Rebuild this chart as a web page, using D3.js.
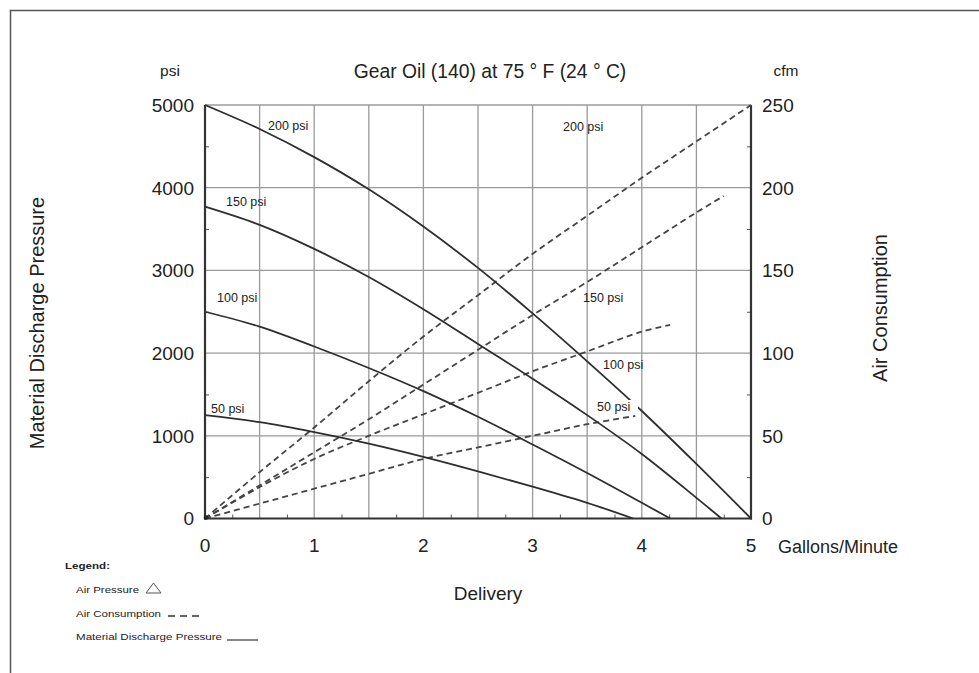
<!DOCTYPE html>
<html>
<head>
<meta charset="utf-8">
<script src="https://cdn.jsdelivr.net/npm/d3@7"></script>
<style>
  html, body { margin: 0; padding: 0; background: #fff; }
  svg { display: block; font-family: "Liberation Sans", Arial, Helvetica, sans-serif; }
</style>
</head>
<body>
<svg id="chart" width="979" height="673"></svg>
<script>
// Gear oil pump performance: material discharge pressure (solid) and air consumption (dashed)
const deliveryTicks = [0, 1, 2, 3, 4, 5];
const psiTicks = [0, 1000, 2000, 3000, 4000, 5000];
const cfmTicks = [0, 50, 100, 150, 200, 250];

// Material discharge pressure (psi) vs delivery (gal/min), per air pressure
const gpm200 = [0, 0.5, 1, 1.5, 2, 2.5, 3, 3.5, 4, 4.5, 5];
const psi200 = [5000, 4710, 4370, 3980, 3530, 3030, 2480, 1900, 1300, 660, 0];
const gpm150 = [0, 0.5, 1, 1.5, 2, 2.5, 3, 3.5, 4, 4.5, 4.73];
const psi150 = [3770, 3550, 3260, 2920, 2530, 2110, 1690, 1250, 780, 250, 0];
const gpm100 = [0, 0.5, 1, 1.5, 2, 2.5, 3, 3.5, 4, 4.26];
const psi100 = [2500, 2320, 2080, 1820, 1540, 1230, 895, 550, 190, 0];
const gpm50 = [0, 0.5, 1, 1.5, 2, 2.5, 3, 3.5, 3.92];
const psi50 = [1250, 1165, 1045, 905, 745, 570, 385, 190, 0];

// Air consumption (cfm) vs delivery (gal/min), per air pressure
const airGpm200 = [0, 0.5, 1, 1.5, 2, 2.5, 3, 3.5, 4, 4.5, 5];
const cfm200 = [0, 28, 55, 83, 110, 135, 160, 183, 206, 228, 250];
const airGpm150 = [0, 0.5, 1, 1.5, 2, 2.5, 3, 3.5, 4, 4.5, 4.75];
const cfm150 = [0, 20, 40, 60, 81, 102, 123, 143, 164, 185, 195];
const airGpm100 = [0, 0.5, 1, 1.5, 2, 2.5, 3, 3.5, 4, 4.26];
const cfm100 = [0, 19, 36, 50, 63, 76, 89, 101, 113, 117];
const airGpm50 = [0, 0.5, 1, 1.5, 2, 2.5, 3, 3.5, 3.94];
const cfm50 = [0, 9, 18, 27, 36, 43, 50, 57, 62];

const pressureLabels = ["200 psi", "150 psi", "100 psi", "50 psi"];

const svg = d3.select("#chart");
const W = 979, H = 673;
const margin = { left: 205, right: W - 751, top: 105, bottom: H - 518.5 };

const x = d3.scaleLinear().domain([0, 5]).range([margin.left, W - margin.right]);
const yP = d3.scaleLinear().domain([0, 5000]).range([H - margin.bottom, margin.top]);
const yC = d3.scaleLinear().domain([0, 250]).range([H - margin.bottom, margin.top]);

// outer frame (top and left edges)
svg.append("path")
  .attr("d", `M10.5,${H} L10.5,10.5 L${W},10.5`)
  .attr("fill", "none").attr("stroke", "#555").attr("stroke-width", 1.5);

// grid
const grid = svg.append("g").attr("stroke", "#9a9a9a").attr("stroke-width", 1.3);
d3.range(0.5, 5, 0.5).forEach(v => {
  grid.append("line").attr("x1", x(v)).attr("x2", x(v)).attr("y1", yP(0)).attr("y2", yP(5000));
});
[1000, 2000, 3000, 4000, 5000].forEach(v => {
  grid.append("line").attr("x1", x(0)).attr("x2", x(5)).attr("y1", yP(v)).attr("y2", yP(v));
});

// axes built with d3 axis generators (inner minor ticks, labels drawn separately)
const axisStyle = g => {
  g.select(".domain").remove();
  g.selectAll(".tick line").attr("stroke", "#555").attr("stroke-width", 1);
  g.selectAll(".tick text").remove();
};
svg.append("g").attr("transform", `translate(${x(0)},0)`)
  .call(d3.axisRight(yP).tickValues([500, 1500, 2500, 3500, 4500]).tickSize(4)).call(axisStyle);
svg.append("g").attr("transform", `translate(${x(5)},0)`)
  .call(d3.axisLeft(yC).tickValues([25, 75, 125, 175, 225]).tickSize(4)).call(axisStyle);
svg.append("g").attr("transform", `translate(0,${yP(0)})`)
  .call(d3.axisTop(x).tickValues(d3.range(0.25, 5, 0.5)).tickSize(4)).call(axisStyle);

// main axis lines
const frame = svg.append("g").attr("stroke", "#333").attr("stroke-width", 2.2).attr("fill", "none");
frame.append("line").attr("x1", x(0)).attr("x2", x(0)).attr("y1", yP(0) + 1).attr("y2", yP(5000));
frame.append("line").attr("x1", x(5)).attr("x2", x(5)).attr("y1", yP(0) + 1).attr("y2", yP(5000));
frame.append("line").attr("x1", x(0) - 1).attr("x2", x(5) + 1).attr("y1", yP(0)).attr("y2", yP(0));

// tick labels
const tickFont = 19;
svg.append("g").selectAll("text").data(psiTicks).join("text")
  .attr("x", x(0) - 11).attr("y", d => yP(d)).attr("dy", "0.36em")
  .attr("text-anchor", "end").attr("font-size", tickFont).attr("fill", "#222").text(d => d);
svg.append("g").selectAll("text").data(cfmTicks).join("text")
  .attr("x", x(5) + 11).attr("y", d => yC(d)).attr("dy", "0.36em")
  .attr("text-anchor", "start").attr("font-size", tickFont).attr("fill", "#222").text(d => d);
svg.append("g").selectAll("text").data(deliveryTicks).join("text")
  .attr("x", d => x(d)).attr("y", 552)
  .attr("text-anchor", "middle").attr("font-size", tickFont).attr("fill", "#222").text(d => d);

// titles
svg.append("text").attr("x", 170).attr("y", 76).attr("text-anchor", "middle")
  .attr("font-size", 15.5).attr("fill", "#222").text("psi");
svg.append("text").attr("x", 786).attr("y", 76).attr("text-anchor", "middle")
  .attr("font-size", 15.5).attr("fill", "#222").text("cfm");
svg.append("text").attr("x", 490).attr("y", 78).attr("text-anchor", "middle")
  .attr("font-size", 19.3).attr("fill", "#222").text("Gear Oil (140) at 75 ° F (24 ° C)");
svg.append("text").attr("x", 778).attr("y", 553).attr("text-anchor", "start")
  .attr("font-size", 18).attr("fill", "#222").text("Gallons/Minute");
svg.append("text").attr("x", 488).attr("y", 600).attr("text-anchor", "middle")
  .attr("font-size", 19).attr("fill", "#222").text("Delivery");
svg.append("text").attr("transform", "translate(44,323) rotate(-90)").attr("text-anchor", "middle")
  .attr("font-size", 20).attr("fill", "#222").text("Material Discharge Pressure");
svg.append("text").attr("transform", "translate(887,308) rotate(-90)").attr("text-anchor", "middle")
  .attr("font-size", 20).attr("fill", "#222").text("Air Consumption");

// curves
const zip = (a, b) => a.map((v, i) => [v, b[i]]);
const psiLine = d3.line().x(d => x(d[0])).y(d => yP(d[1])).curve(d3.curveCatmullRom.alpha(0.5));
const cfmLine = d3.line().x(d => x(d[0])).y(d => yC(d[1])).curve(d3.curveCatmullRom.alpha(0.5));

const airSeries = [zip(airGpm200, cfm200), zip(airGpm150, cfm150), zip(airGpm100, cfm100), zip(airGpm50, cfm50)];
const psiSeries = [zip(gpm200, psi200), zip(gpm150, psi150), zip(gpm100, psi100), zip(gpm50, psi50)];

svg.append("g").selectAll("path").data(airSeries).join("path")
  .attr("d", cfmLine).attr("fill", "none").attr("stroke", "#444")
  .attr("stroke-width", 1.8).attr("stroke-dasharray", "6,4");

svg.append("g").selectAll("path").data(psiSeries).join("path")
  .attr("d", psiLine).attr("fill", "none").attr("stroke", "#2e2e2e").attr("stroke-width", 1.8);

svg.append("circle").attr("cx", x(0) + 1).attr("cy", yP(0) - 1).attr("r", 2.2).attr("fill", "#222");

// curve labels
const labelFont = 12.5;
const solidLabelPos = [[268, 130], [226, 206], [217, 302], [211, 413]];
svg.append("g").selectAll("text").data(pressureLabels).join("text")
  .attr("x", (d, i) => solidLabelPos[i][0]).attr("y", (d, i) => solidLabelPos[i][1])
  .attr("font-size", labelFont).attr("fill", "#222").text(d => d);

const dashLabelPos = [[563, 131], [583, 302], [603, 369], [597, 411]];
const dl = svg.append("g").selectAll("g").data(pressureLabels).join("g");
dl.filter((d, i) => i === 3).append("rect")
  .attr("x", dashLabelPos[3][0] - 1).attr("y", dashLabelPos[3][1] - 11)
  .attr("width", 42).attr("height", 15).attr("fill", "#fff");
dl.append("text")
  .attr("x", (d, i) => dashLabelPos[i][0]).attr("y", (d, i) => dashLabelPos[i][1])
  .attr("font-size", labelFont).attr("fill", "#222").text(d => d);

// legend
const lg = svg.append("g").attr("fill", "#222");
lg.append("text").attr("x", 65).attr("y", 569).attr("font-size", 9.5).attr("font-weight", "bold")
  .attr("textLength", 45).attr("lengthAdjust", "spacingAndGlyphs").text("Legend:");
lg.append("text").attr("x", 76).attr("y", 593).attr("font-size", 9.5)
  .attr("textLength", 63).attr("lengthAdjust", "spacingAndGlyphs").text("Air Pressure");
lg.append("path").attr("d", "M146,593 L153.5,583 L161,593 Z").attr("fill", "none")
  .attr("stroke", "#555").attr("stroke-width", 1);
lg.append("text").attr("x", 76).attr("y", 616.5).attr("font-size", 9.5)
  .attr("textLength", 85).attr("lengthAdjust", "spacingAndGlyphs").text("Air Consumption");
lg.append("line").attr("x1", 168).attr("x2", 200).attr("y1", 616).attr("y2", 616)
  .attr("stroke", "#333").attr("stroke-width", 1.5).attr("stroke-dasharray", "7,5");
lg.append("text").attr("x", 76).attr("y", 640).attr("font-size", 9.5)
  .attr("textLength", 146).attr("lengthAdjust", "spacingAndGlyphs").text("Material Discharge Pressure");
lg.append("line").attr("x1", 227).attr("x2", 258).attr("y1", 640).attr("y2", 640)
  .attr("stroke", "#333").attr("stroke-width", 1.2);
</script>
</body>
</html>
